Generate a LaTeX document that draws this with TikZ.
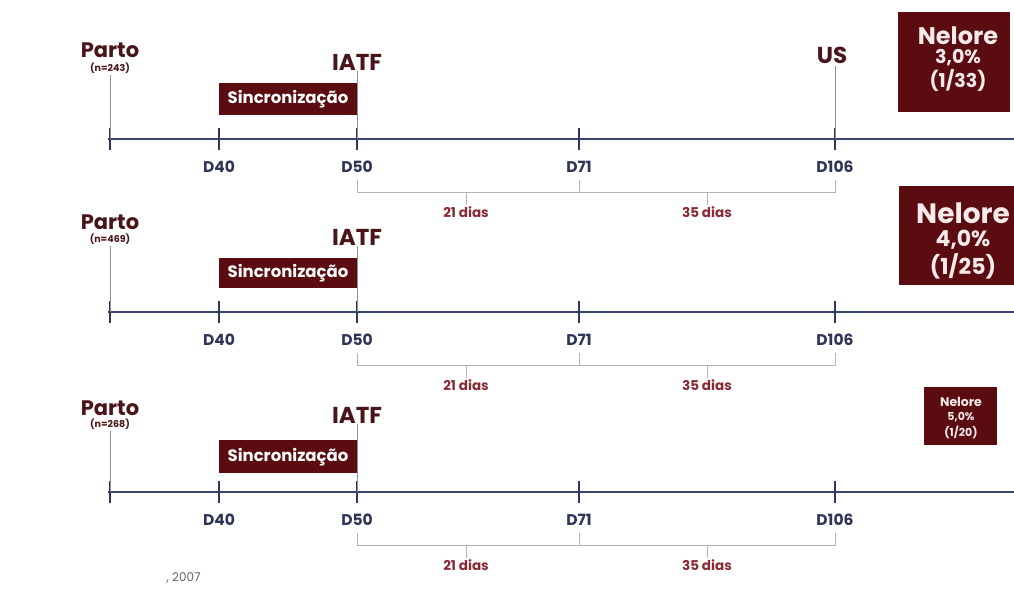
\documentclass[tikz,border=0pt]{standalone}
\usepackage{fontspec}
\setmainfont{Poppins}
\definecolor{boxred}{HTML}{5A0C10}
\definecolor{darkred}{HTML}{4A1518}
\definecolor{navy}{HTML}{3A4470}
\definecolor{dnavy}{HTML}{2E3558}
\definecolor{diasred}{HTML}{8A2A35}
\definecolor{lgray}{HTML}{B4B4B4}
\definecolor{boxtext}{HTML}{F7EAEA}
\newcommand{\fs}[2]{\fontsize{#1}{#2}\selectfont}
\usetikzlibrary{fit}
\newcommand{\tlrow}[8]{%
% #1 id, #2 axis y, #3 n text, #4 parto y, #5 n y, #6 iatf y, #7 sinc top, #8 sinc bottom
\coordinate (#1s) at (108,#2);
\coordinate (#1e) at (1014,#2);
\draw[axisline] (#1s) -- (#1e);
\foreach \k/\x in {0/110,1/219,2/357,3/579,4/835}{
  \coordinate (#1t\k) at (\x,#2);
  \draw[tickline] (\x,{#2-11}) -- (\x,{#2+11});
}
\node[plabel] (#1p) at (110,#4) {Parto};
\node[nlabel] (#1n) at (110,#5) {(n=#3)};
\node[ilabel] (#1i) at (357,#6) {IATF};
\draw[thin1] (#1n.south) -- (#1t0);
\draw[thin1] (#1i.south) -- (#1t2);
\path (219,#7) coordinate (#1a) (357,#8) coordinate (#1b);
\node[sincbox, fit=(#1a)(#1b)] (#1sb) {};
\node[sinctext] (#1st) at ([yshift=-0.5pt]#1sb.center) {Sincronização};
\node[dlabel] (#1d40) at (219,{#2+28}) {D40};
\node[dlabel] (#1d50) at (357,{#2+28}) {D50};
\node[dlabel] (#1d71) at (579,{#2+28}) {D71};
\node[dlabel] (#1d106) at (835,{#2+28}) {D106};
\coordinate (#1b1) at (357,{#2+41});
\coordinate (#1b2) at (357,{#2+53});
\coordinate (#1b3) at (579,{#2+41});
\coordinate (#1b4) at (579,{#2+53});
\coordinate (#1b5) at (835,{#2+41});
\coordinate (#1b6) at (835,{#2+53});
\coordinate (#1m1) at (466,{#2+53});
\coordinate (#1m2) at (707,{#2+53});
\draw[brk] (#1b1) -- (#1b2) -- (#1b6) -- (#1b5);
\draw[brk] (#1b3) -- (#1b4);
\node[dias] (#1w1) at (466,{#2+73}) {21 dias};
\node[dias] (#1w2) at (707,{#2+73}) {35 dias};
\draw[brk] (#1m1) -- (#1w1.north);
\draw[brk] (#1m2) -- (#1w2.north);
}
\begin{document}
\begin{tikzpicture}[x=1pt,y=-1pt,
  axisline/.style={draw=navy,line width=2pt},
  tickline/.style={draw=dnavy,line width=2pt},
  thin1/.style={draw=lgray!80!black,line width=0.9pt},
  brk/.style={draw=lgray,line width=1pt},
  plabel/.style={text=darkred,font=\fs{21}{22}\bfseries,inner sep=1pt},
  ilabel/.style={text=darkred,font=\fs{23}{24}\bfseries,inner sep=1pt},
  nlabel/.style={text=darkred,font=\fs{9.5}{10}\bfseries,inner sep=1pt},
  sincbox/.style={fill=boxred,draw=none,inner sep=0pt},
  sinctext/.style={text=white,font=\fs{16.5}{17}\bfseries,inner sep=0pt},
  dlabel/.style={text=dnavy,font=\fs{15.5}{16}\bfseries,inner sep=1pt},
  dias/.style={text=diasred,font=\fs{13.5}{14}\bfseries,inner sep=1pt},
  nbox/.style={fill=boxred,draw=none,inner sep=0pt},
  ntext/.style={text=boxtext,inner sep=0pt}
]
\useasboundingbox (0,0) rectangle (1014,594);
\fill[white] (0,0) rectangle (1014,594);
% rows
\tlrow{r1}{139}{243}{50}{68}{62}{83}{115}
\tlrow{r2}{312}{469}{222}{239}{237}{258}{288}
\tlrow{r3}{492}{268}{408}{424}{415}{440}{473}
% US in row 1
\node[ilabel] (us) at (832,55) {US};
\draw[thin1] ([yshift=-2pt]us.south -| r1t4) -- (r1t4);
% Nelore boxes
\path (898,12) coordinate (n1a) (1010,112) coordinate (n1b);
\node[nbox,fit=(n1a)(n1b)] (n1) {};
\node[ntext,font=\fs{24}{26}\bfseries] (n1l1) at (958,36) {Nelore};
\node[ntext,font=\fs{19}{20}\bfseries] (n1l2) at (958,58) {3,0\%};
\node[ntext,font=\fs{19}{20}\bfseries] (n1l3) at (958,80) {(1/33)};
\path (899,186) coordinate (n2a) (1022,285) coordinate (n2b);
\node[nbox,fit=(n2a)(n2b)] (n2) {};
\node[ntext,font=\fs{28}{30}\bfseries] (n2l1) at (963,213) {Nelore};
\node[ntext,font=\fs{22}{24}\bfseries] (n2l2) at (963,240) {4,0\%};
\node[ntext,font=\fs{22}{24}\bfseries] (n2l3) at (963,266) {(1/25)};
\path (924,387) coordinate (n3a) (997,445) coordinate (n3b);
\node[nbox,fit=(n3a)(n3b)] (n3) {};
\node[ntext,font=\fs{12.5}{13}\bfseries] (n3l1) at (961,402) {Nelore};
\node[ntext,font=\fs{11}{12}\bfseries] (n3l2) at (961,417) {5,0\%};
\node[ntext,font=\fs{11}{12}\bfseries] (n3l3) at (961,432) {(1/20)};
% footnote
\node[text=black!60,font=\fs{12}{13},anchor=west] (ref) at (163,578) {, 2007};
\end{tikzpicture}
\end{document}
